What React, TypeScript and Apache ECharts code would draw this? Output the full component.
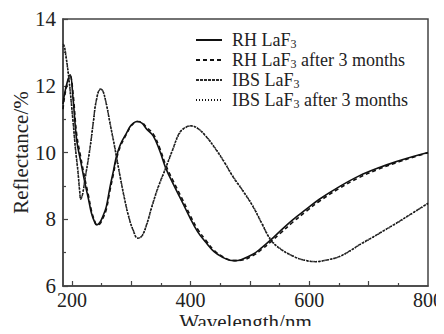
import React, { useEffect, useRef } from "react";
import * as echarts from "echarts";

// Reflectance spectra of LaF3 coatings (resistive-heating vs ion-beam sputtering)
const rhWavelength = [185, 187, 192, 197, 202, 208, 215, 222, 228, 233, 238, 242, 247, 252, 258, 264, 270, 275, 282, 292, 300, 310, 318, 326, 337, 348, 358, 370, 385, 398, 412, 426, 440, 454, 466, 474, 485, 505, 520, 535, 550, 572, 595, 617, 650, 684, 718, 751, 775, 800];
const rhReflectance = [11.45, 11.7, 12.1, 12.33, 11.6, 10.38, 9.72, 9.08, 8.6, 8.18, 7.93, 7.83, 7.9, 8.08, 8.38, 8.95, 9.45, 9.88, 10.25, 10.58, 10.82, 10.93, 10.88, 10.7, 10.5, 10.05, 9.54, 9.08, 8.55, 8.08, 7.62, 7.3, 7.02, 6.86, 6.77, 6.76, 6.79, 6.95, 7.15, 7.38, 7.63, 7.98, 8.3, 8.6, 8.97, 9.3, 9.55, 9.75, 9.88, 10.0];
const rhAgedReflectance = [11.3, 11.6, 12.05, 12.3, 11.75, 10.55, 9.85, 9.2, 8.7, 8.25, 7.97, 7.83, 7.86, 8.02, 8.3, 8.85, 9.36, 9.8, 10.2, 10.55, 10.8, 10.93, 10.9, 10.75, 10.56, 10.13, 9.63, 9.17, 8.64, 8.16, 7.7, 7.36, 7.06, 6.88, 6.78, 6.76, 6.77, 6.91, 7.1, 7.32, 7.56, 7.91, 8.24, 8.54, 8.92, 9.25, 9.51, 9.72, 9.86, 9.99];

const ibsWavelength = [185, 187, 190, 195, 202, 206, 210, 213, 215, 218, 222, 230, 236, 241, 248, 252, 258, 264, 270, 275, 282, 289, 296, 303, 311, 318, 326, 335, 345, 358, 370, 381, 391, 401, 412, 425, 443, 457, 471, 488, 505, 520, 535, 552, 572, 590, 611, 630, 650, 668, 684, 718, 751, 775, 800];
const ibsReflectance = [13.25, 13.2, 12.9, 12.2, 10.9, 10.1, 9.45, 8.85, 8.6, 8.75, 9.2, 10.08, 10.9, 11.55, 11.9, 11.85, 11.45, 10.89, 10.35, 9.88, 9.2, 8.58, 8.05, 7.68, 7.43, 7.5, 7.85, 8.4, 8.95, 9.54, 10.1, 10.58, 10.75, 10.8, 10.72, 10.5, 10.08, 9.7, 9.28, 8.85, 8.38, 7.87, 7.38, 7.1, 6.9, 6.78, 6.73, 6.78, 6.88, 7.05, 7.23, 7.58, 7.93, 8.2, 8.48];
const ibsAgedReflectance = [13.2, 13.15, 12.85, 12.2, 10.95, 10.15, 9.5, 8.9, 8.62, 8.75, 9.18, 10.05, 10.88, 11.53, 11.88, 11.85, 11.47, 10.92, 10.38, 9.9, 9.23, 8.6, 8.07, 7.69, 7.44, 7.5, 7.83, 8.38, 8.93, 9.52, 10.08, 10.56, 10.74, 10.79, 10.72, 10.51, 10.1, 9.72, 9.3, 8.87, 8.4, 7.89, 7.4, 7.11, 6.9, 6.78, 6.73, 6.78, 6.87, 7.04, 7.22, 7.57, 7.92, 8.19, 8.47];

const seriesNames = ["RH LaF3", "RH LaF3 after 3 months", "IBS LaF3", "IBS LaF3 after 3 months"];
const xLabelValues = [200, 400, 600, 800];
const xMajorTicks = [200, 300, 400, 500, 600, 700];
const xMinorTicks = [250, 350, 450, 550, 650, 750];

const FONT = "'Liberation Serif', 'Times New Roman', serif";
const INK = "#222";

const pairs = (xs: number[], ys: number[]) => xs.map((x, i) => [x, ys[i]]);

export default function App() {
  const ref = useRef<HTMLDivElement>(null);

  useEffect(() => {
    if (!ref.current) return;
    const chart = echarts.init(ref.current, null, { renderer: "svg" });

    const line = (name: string, data: number[][], type: any, width: number, color: string) => ({
      name,
      type: "line",
      data,
      showSymbol: false,
      symbol: "none",
      smooth: 0.4,
      xAxisIndex: 0,
      lineStyle: { type, width, color },
      itemStyle: { color },
      z: 3,
    });

    chart.setOption({
      animation: false,
      backgroundColor: "#fff",
      textStyle: { fontFamily: FONT, color: INK },
      grid: {
        left: 63,
        right: 16,
        top: 19,
        bottom: 48,
        show: true,
        borderColor: "#444",
        borderWidth: 1.5,
        containLabel: false,
        outerBoundsMode: "none",
      },
      legend: {
        orient: "vertical",
        left: 195,
        top: 30,
        padding: 0,
        itemGap: 0,
        itemWidth: 26,
        itemHeight: 2,
        selectedMode: false,
        align: "left",
        data: seriesNames,
        // keep only the line sample of each key, no marker dot
        itemStyle: { color: "rgba(0,0,0,0)", borderColor: "rgba(0,0,0,0)", borderWidth: 0 },
        formatter: (name: string) => name.replace("LaF3", "LaF{sub|3}"),
        textStyle: {
          fontFamily: FONT,
          fontSize: 18,
          color: INK,
          lineHeight: 20,
          padding: [0, 0, 0, 5],
          rich: {
            sub: { fontFamily: FONT, fontSize: 12, lineHeight: 12, verticalAlign: "bottom", color: INK },
          },
        },
      },
      xAxis: [
        {
          type: "value",
          min: 185,
          max: 800,
          name: "Wavelength/nm",
          nameLocation: "middle",
          nameGap: 25,
          nameMoveOverlap: false,
          nameTextStyle: { fontFamily: FONT, fontSize: 21, color: INK },
          splitLine: { show: false },
          axisLine: { show: true, lineStyle: { color: "#444", width: 1.5 } },
          axisTick: { show: true, inside: true, length: 5, customValues: xMajorTicks, lineStyle: { color: "#444", width: 1.2 } },
          axisLabel: { show: true, customValues: xLabelValues, fontFamily: FONT, fontSize: 20, color: INK, margin: 4 },
        },
        {
          type: "value",
          min: 185,
          max: 800,
          position: "bottom",
          splitLine: { show: false },
          axisLine: { show: false },
          axisTick: { show: true, inside: true, length: 3, customValues: xMinorTicks, lineStyle: { color: "#444", width: 1.2 } },
          axisLabel: { show: false },
        },
      ],
      yAxis: {
        type: "value",
        min: 6,
        max: 14,
        interval: 2,
        name: "Reflectance/%",
        nameLocation: "middle",
        nameGap: 32,
        nameMoveOverlap: false,
        nameTextStyle: { fontFamily: FONT, fontSize: 21, color: INK },
        splitLine: { show: false },
        axisLine: { show: true, lineStyle: { color: "#444", width: 1.5 } },
        axisTick: { show: true, inside: true, length: 5, lineStyle: { color: "#444", width: 1.2 } },
        minorTick: { show: true, splitNumber: 2, length: 3, lineStyle: { color: "#444", width: 1.2 } },
        axisLabel: { fontFamily: FONT, fontSize: 21, color: INK, margin: 7 },
      },
      series: [
        line(seriesNames[0], pairs(rhWavelength, rhReflectance), "solid", 1.6, "#111"),
        line(seriesNames[1], pairs(rhWavelength, rhAgedReflectance), [4, 3], 1.6, "#111"),
        line(seriesNames[2], pairs(ibsWavelength, ibsReflectance), [3, 1], 1.5, "#2a2a2a"),
        line(seriesNames[3], pairs(ibsWavelength, ibsAgedReflectance), [1, 2], 1.4, "#111"),
      ],
    });

    return () => chart.dispose();
  }, []);

  return <div ref={ref} style={{ width: 444, height: 334, margin: -8 }} />;
}
